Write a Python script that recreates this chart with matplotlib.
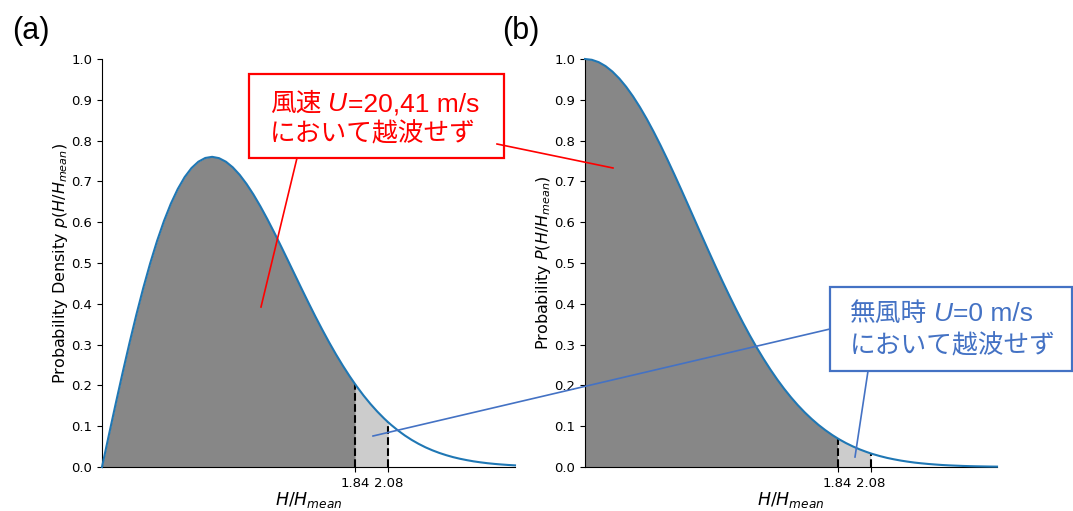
import matplotlib
matplotlib.use("Agg")
import matplotlib.pyplot as plt
import numpy as np
from matplotlib.patches import Rectangle
from matplotlib.lines import Line2D

# Normalised wave height H/H_mean
h_ratio = [0.00, 0.05, 0.10, 0.15, 0.20, 0.25, 0.30, 0.35, 0.40, 0.45,
           0.50, 0.55, 0.60, 0.65, 0.70, 0.75, 0.80, 0.85, 0.90, 0.95,
           1.00, 1.05, 1.10, 1.15, 1.20, 1.25, 1.30, 1.35, 1.40, 1.45,
           1.50, 1.55, 1.60, 1.65, 1.70, 1.75, 1.80, 1.84, 1.85, 1.90,
           1.95, 2.00, 2.05, 2.08, 2.10, 2.15, 2.20, 2.25, 2.30, 2.35,
           2.40, 2.45, 2.50, 2.55, 2.60, 2.65, 2.70, 2.75, 2.80, 2.85,
           2.90, 2.95, 3.00]

# (a) probability density p(H/H_mean)
density = [0.0000, 0.0784, 0.1559, 0.2315, 0.3044, 0.3739, 0.4391, 0.4993, 0.5541, 0.6029,
           0.6454, 0.6812, 0.7104, 0.7327, 0.7483, 0.7574, 0.7602, 0.7570, 0.7483, 0.7345,
           0.7162, 0.6938, 0.6680, 0.6393, 0.6083, 0.5755, 0.5415, 0.5068, 0.4718, 0.4369,
           0.4025, 0.3689, 0.3366, 0.3055, 0.2759, 0.2481, 0.2220, 0.2024, 0.1977, 0.1752,
           0.1546, 0.1358, 0.1187, 0.1093, 0.1033, 0.0895, 0.0772, 0.0663, 0.0567, 0.0482,
           0.0409, 0.0345, 0.0290, 0.0242, 0.0202, 0.0168, 0.0138, 0.0114, 0.0093, 0.0076,
           0.0062, 0.0050, 0.0040]

# (b) exceedance probability P(H/H_mean)
exceedance = [1.0000, 0.9980, 0.9922, 0.9825, 0.9691, 0.9521, 0.9318, 0.9083, 0.8819, 0.8530,
              0.8217, 0.7885, 0.7537, 0.7176, 0.6806, 0.6429, 0.6049, 0.5670, 0.5293, 0.4922,
              0.4559, 0.4207, 0.3866, 0.3539, 0.3227, 0.2931, 0.2652, 0.2390, 0.2145, 0.1918,
              0.1708, 0.1515, 0.1339, 0.1179, 0.1033, 0.0903, 0.0785, 0.0700, 0.0680, 0.0587,
              0.0505, 0.0432, 0.0369, 0.0334, 0.0313, 0.0265, 0.0223, 0.0188, 0.0157, 0.0131,
              0.0108, 0.0090, 0.0074, 0.0061, 0.0049, 0.0040, 0.0033, 0.0026, 0.0021, 0.0017,
              0.0014, 0.0011, 0.0009]

# Overtopping thresholds: with wind (U=20,41 m/s) and calm (U=0 m/s)
limit_wind = 1.84
limit_calm = 2.08
x_tick_labels = ["1.84", "2.08"]
y_ticks = [0.0, 0.1, 0.2, 0.3, 0.4, 0.5, 0.6, 0.7, 0.8, 0.9, 1.0]

W, H = 1073, 511
CURVE = "#1f77b4"
DARK = "#878787"
LIGHT = "#cccccc"
RED = "#ff0000"
BLUE = "#4472c4"
JP = ["Noto Sans CJK JP", "DejaVu Sans"]
LAT = ["Liberation Sans", "DejaVu Sans"]

fig = plt.figure(figsize=(W / 100, H / 100), dpi=100)
fig.patch.set_facecolor("white")


def fx(px):
    return px / W


def fy(py):
    return 1 - py / H


ax_a = fig.add_axes([fx(102), fy(467), 413 / W, 408 / H])
ax_b = fig.add_axes([fx(585), fy(467), 412 / W, 408 / H])

x = np.array(h_ratio)
panels = [
    (ax_a, np.array(density), r"Probability Density $p(H/H_{mean})$"),
    (ax_b, np.array(exceedance), r"Probability $P(H/H_{mean})$"),
]

for ax, y, ylabel in panels:
    ax.fill_between(x, 0, y, where=x <= limit_wind, color=DARK, lw=0)
    ax.fill_between(x, 0, y, where=(x >= limit_wind) & (x <= limit_calm),
                    color=LIGHT, lw=0)
    ax.plot(x, y, color=CURVE, lw=1.5, clip_on=False, zorder=3)
    for lim in (limit_wind, limit_calm):
        top = y[h_ratio.index(lim)]
        ax.plot([lim, lim], [0, top], color="black", ls="--", lw=1.5, zorder=2)
    ax.set_xlim(0, 3.0)
    ax.set_ylim(0, 1.0)
    ax.set_xticks([limit_wind, limit_calm])
    ax.set_xticklabels(x_tick_labels)
    ax.set_yticks(y_ticks)
    ax.set_yticklabels([f"{v:.1f}" for v in y_ticks])
    ax.tick_params(labelsize=9.5, length=3.5)
    ax.spines["top"].set_visible(False)
    ax.spines["right"].set_visible(False)
    ax.set_xlabel(r"$H/H_{mean}$", fontsize=12.5, labelpad=0)
    ax.set_ylabel(ylabel, fontsize=11.5, labelpad=1)

fig.text(fx(12), fy(31), "(a)", fontsize=22, family=LAT, va="center", ha="left")
fig.text(fx(502), fy(31), "(b)", fontsize=22, family=LAT, va="center", ha="left")

renderer = fig.canvas.get_renderer()


def draw_runs(x_px, y_px, runs, color):
    """Lay out text pieces of different faces side by side on one baseline."""
    cur = x_px
    for s, kw, gap in runs:
        t = fig.text(fx(cur), fy(y_px), s, color=color, va="baseline",
                     ha="left", zorder=5, **kw)
        bb = t.get_window_extent(renderer)
        cur = bb.x1 + gap


def callout(box, lines, color, leaders):
    x0, y0, x1, y1 = box
    fig.add_artist(Rectangle((fx(x0), fy(y1)), (x1 - x0) / W, (y1 - y0) / H,
                             transform=fig.transFigure, facecolor="white",
                             edgecolor=color, lw=1.6, zorder=4))
    for (ax0, ay0), (ax1, ay1) in leaders:
        fig.add_artist(Line2D([fx(ax0), fx(ax1)], [fy(ay0), fy(ay1)],
                              transform=fig.transFigure, color=color,
                              lw=1.2, zorder=6))
    for (lx, ly, runs) in lines:
        draw_runs(lx, ly, runs, color)


jp = dict(fontsize=18.5, family=JP)
lat = dict(fontsize=19, family=LAT)
lat_it = dict(fontsize=19, family=LAT, style="italic")

callout((249, 74, 504, 158),
        [(270, 111, [("風速", jp, 6), ("U", lat_it, 1), ("=20,41 m/s", lat, 0)]),
         (270, 141, [("において越波せず", jp, 0)])],
        RED,
        [((297, 158), (261, 307)), ((497, 144), (613, 168))])

callout((830, 287, 1072, 371),
        [(850, 321, [("無風時", jp, 6), ("U", lat_it, 1), ("=0 m/s", lat, 0)]),
         (850, 353, [("において越波せず", jp, 0)])],
        BLUE,
        [((830, 329), (373, 436)), ((868, 371), (855, 457))])

fig.savefig("out.png", dpi=100, facecolor="white")
